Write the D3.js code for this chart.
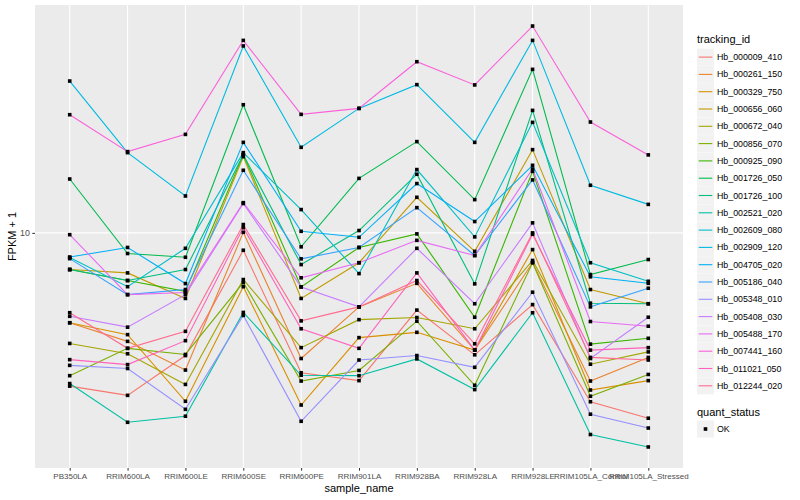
<!DOCTYPE html>
<html><head><meta charset="utf-8">
<script src="https://cdn.jsdelivr.net/npm/d3@7"></script>
<style>body{margin:0;background:#fff;} text{font-family:"Liberation Sans",Arial,sans-serif;}</style>
</head><body><svg id="c" width="800" height="500"></svg>
<script>
const categories = ["PB350LA","RRIM600LA","RRIM600LE","RRIM600SE","RRIM600PE","RRIM901LA","RRIM928BA","RRIM928LA","RRIM928LE","RRIM105LA_Control","RRIM105LA_Stressed"];
const trackingIds = ["Hb_000009_410","Hb_000261_150","Hb_000329_750","Hb_000656_060","Hb_000672_040","Hb_000856_070","Hb_000925_090","Hb_001726_050","Hb_001726_100","Hb_002521_020","Hb_002609_080","Hb_002909_120","Hb_004705_020","Hb_005186_040","Hb_005348_010","Hb_005408_030","Hb_005488_170","Hb_007441_160","Hb_011021_050","Hb_012244_020"];
const quantStatus = ["OK"];
const yTicks = [10];

// FPKM + 1 values per tracking_id, in the order of categories
const hb000009_410 = [4.61, 4.40, 5.38, 9.16, 4.93, 4.74, 6.77, 5.40, 6.96, 4.26, 3.92];
const hb000261_150 = [6.35, 5.78, 5.00, 10.03, 5.30, 6.88, 7.75, 5.53, 8.61, 4.73, 5.33];
const hb000329_750 = [6.35, 5.98, 4.27, 7.62, 4.19, 5.89, 6.05, 5.53, 9.19, 4.52, 4.74];
const hb000656_060 = [8.31, 8.17, 7.18, 14.70, 7.18, 8.60, 11.97, 9.11, 15.23, 7.51, 6.99];
const hb000672_040 = [5.72, 5.43, 4.65, 7.90, 5.60, 6.45, 6.52, 6.16, 8.70, 5.15, 5.48];
const hb000856_070 = [4.86, 5.58, 5.41, 7.78, 4.73, 4.99, 6.40, 4.63, 8.60, 4.38, 4.89];
const hb000925_090 = [8.31, 7.86, 7.44, 14.85, 7.61, 9.29, 9.95, 6.53, 13.65, 5.70, 5.87];
const hb001726_050 = [13.13, 9.01, 8.84, 19.11, 9.32, 13.17, 15.86, 11.83, 22.85, 8.10, 8.74];
const hb001726_100 = [8.31, 7.86, 8.31, 14.85, 8.52, 10.12, 13.45, 7.73, 18.57, 7.01, 6.99];
const hb002521_020 = [4.67, 3.84, 3.96, 6.69, 4.87, 4.86, 5.29, 4.53, 6.68, 3.61, 3.39];
const hb002609_080 = [8.83, 7.62, 9.25, 15.00, 11.25, 8.14, 13.77, 9.80, 17.48, 8.60, 7.83];
const hb002909_120 = [21.54, 15.00, 12.05, 25.72, 15.41, 18.76, 21.15, 15.80, 26.45, 12.72, 11.55];
const hb004705_020 = [8.85, 9.29, 7.74, 15.80, 10.08, 9.78, 12.83, 10.59, 14.07, 8.01, 7.75];
const hb005186_040 = [8.78, 7.32, 7.51, 13.72, 8.77, 9.29, 11.36, 8.92, 13.07, 6.88, 7.56];
const hb005348_010 = [5.12, 5.04, 4.10, 6.59, 3.86, 5.26, 5.38, 5.07, 7.41, 4.00, 3.73];
const hb005408_030 = [6.56, 6.21, 7.32, 11.60, 7.61, 6.88, 9.25, 6.99, 10.52, 5.30, 6.53];
const hb005488_170 = [9.91, 7.32, 7.40, 11.65, 7.97, 8.60, 9.63, 8.92, 13.81, 6.39, 6.24];
const hb007441_160 = [18.17, 15.08, 16.45, 26.45, 18.20, 18.76, 23.75, 21.12, 28.44, 17.51, 14.83];
const hb011021_050 = [5.27, 5.14, 5.80, 10.27, 6.16, 5.58, 8.17, 5.53, 9.93, 5.53, 5.60];
const hb012244_020 = [6.68, 5.58, 6.08, 10.43, 6.41, 6.88, 7.86, 5.71, 10.00, 5.33, 5.26];

const seriesValues = [hb000009_410,hb000261_150,hb000329_750,hb000656_060,hb000672_040,hb000856_070,hb000925_090,hb001726_050,hb001726_100,hb002521_020,hb002609_080,hb002909_120,hb004705_020,hb005186_040,hb005348_010,hb005408_030,hb005488_170,hb007441_160,hb011021_050,hb012244_020];

const palette = ["#F8766D","#EA8331","#D89000","#C09B00","#A3A500","#7CAE00","#39B600","#00BB4E","#00BF7D","#00C1A3","#00BFC4","#00BAE0","#00B0F6","#35A2FF","#9590FF","#C77CFF","#E76BF3","#FA62DB","#FF62BC","#FF6C90"];

const series = trackingIds.map((id,i)=>({id, values: seriesValues[i].map((v,j)=>({cat:categories[j], v}))}));

const svg = d3.select("#c");
const P = {l:35, r:683, t:5, b:468};

const x = d3.scalePoint().domain(categories).range([P.l,P.r]).padding(0.6);
const all = seriesValues.flat();
const lmin = Math.log10(d3.min(all)), lmax = Math.log10(d3.max(all));
const ex = (lmax-lmin)*0.05;
const y = d3.scaleLog().domain([Math.pow(10,lmin-ex), Math.pow(10,lmax+ex)]).range([P.b,P.t]);
const color = d3.scaleOrdinal().domain(trackingIds).range(palette);

// panel
svg.append("rect").attr("x",P.l).attr("y",P.t).attr("width",P.r-P.l).attr("height",P.b-P.t).attr("fill","#EBEBEB");
const grid = svg.append("g");
grid.selectAll("line.v").data(categories).join("line")
  .attr("x1",d=>x(d)).attr("x2",d=>x(d)).attr("y1",P.t).attr("y2",P.b)
  .attr("stroke","#fff").attr("stroke-width",1.1);
grid.selectAll("line.h").data(yTicks).join("line")
  .attr("x1",P.l).attr("x2",P.r).attr("y1",d=>y(d)).attr("y2",d=>y(d))
  .attr("stroke","#fff").attr("stroke-width",1.1);

// lines
const line = d3.line().x(d=>x(d.cat)).y(d=>y(d.v));
svg.append("g").selectAll("path").data(series).join("path")
  .attr("d",d=>line(d.values)).attr("fill","none")
  .attr("stroke",d=>color(d.id)).attr("stroke-width",1.1);

// points
const pts = series.flatMap(s=>s.values);
svg.append("g").selectAll("rect").data(pts).join("rect")
  .attr("x",d=>x(d.cat)-1.8).attr("y",d=>y(d.v)-1.8).attr("width",3.6).attr("height",3.6)
  .attr("fill","#000");

// axes
const xa = svg.append("g").attr("transform",`translate(0,${P.b})`)
  .call(d3.axisBottom(x).tickSize(2.7).tickPadding(2.5));
xa.select(".domain").remove();
xa.selectAll(".tick line").attr("stroke","#333").attr("stroke-width",1);
xa.selectAll(".tick text").attr("fill","#4D4D4D").style("font-size","8px").style("font-family","'Liberation Sans',Arial,sans-serif");

const ya = svg.append("g").attr("transform",`translate(${P.l},0)`)
  .call(d3.axisLeft(y).tickValues(yTicks).tickFormat(d3.format("d")).tickSize(2.7).tickPadding(2.5));
ya.select(".domain").remove();
ya.selectAll(".tick line").attr("stroke","#333").attr("stroke-width",1);
ya.selectAll(".tick text").attr("fill","#4D4D4D").style("font-size","8.8px").style("font-family","'Liberation Sans',Arial,sans-serif");

svg.append("text").attr("x",(P.l+P.r)/2).attr("y",492).attr("text-anchor","middle")
  .style("font-size","11px").attr("fill","#000").text("sample_name");
svg.append("text").attr("transform",`translate(16,${(P.t+P.b)/2}) rotate(-90)`).attr("text-anchor","middle")
  .style("font-size","11px").attr("fill","#000").text("FPKM + 1");

// legend
const lg = svg.append("g");
lg.append("text").attr("x",697).attr("y",43).style("font-size","11px").text("tracking_id");
const keyH = 17.3, key0 = 48.6;
const items = lg.selectAll("g.k").data(trackingIds).join("g").attr("transform",(d,i)=>`translate(697,${key0+i*keyH})`);
items.append("rect").attr("width",17).attr("height",17).attr("fill","#F2F2F2");
items.append("line").attr("x1",1.7).attr("x2",15.3).attr("y1",8.5).attr("y2",8.5).attr("stroke",d=>color(d)).attr("stroke-width",1.1);
items.append("text").attr("x",20).attr("y",8.5).attr("dy","0.35em").style("font-size","8.8px").text(d=>d);

lg.append("text").attr("x",697).attr("y",416).style("font-size","11px").text("quant_status");
const q = lg.selectAll("g.q").data(quantStatus).join("g").attr("transform",(d,i)=>`translate(697,${420.5+i*keyH})`);
q.append("rect").attr("width",17).attr("height",17).attr("fill","#F2F2F2");
q.append("rect").attr("x",6.7).attr("y",6.7).attr("width",3.6).attr("height",3.6).attr("fill","#000");
q.append("text").attr("x",20).attr("y",8.5).attr("dy","0.35em").style("font-size","8.8px").text(d=>d);
</script></body></html>
